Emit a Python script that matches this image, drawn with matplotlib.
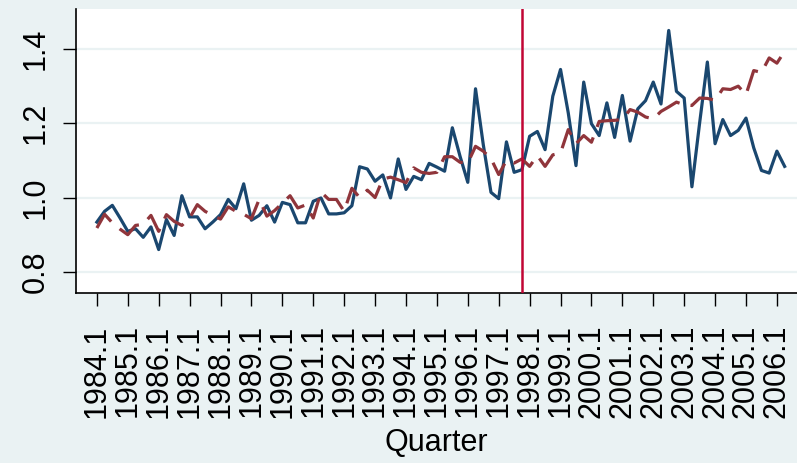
import matplotlib
matplotlib.use("Agg")
import matplotlib.pyplot as plt

# quarterly series, 1984.1 .. 2006.2
actual = [0.934, 0.963, 0.979, 0.945, 0.909, 0.916, 0.893, 0.921, 0.860, 0.941,
          0.898, 1.005, 0.948, 0.948, 0.916, 0.934, 0.954, 0.995, 0.970, 1.037,
          0.939, 0.952, 0.978, 0.934, 0.987, 0.981, 0.932, 0.932, 0.990, 0.999,
          0.956, 0.956, 0.959, 0.978, 1.083, 1.077, 1.044, 1.061, 0.999, 1.104,
          1.022, 1.057, 1.048, 1.092, 1.082, 1.071, 1.188, 1.111, 1.041, 1.293,
          1.143, 1.014, 0.997, 1.150, 1.068, 1.075, 1.165, 1.178, 1.129, 1.273,
          1.345, 1.228, 1.086, 1.311, 1.199, 1.167, 1.255, 1.162, 1.275, 1.152,
          1.239, 1.261, 1.311, 1.252, 1.450, 1.286, 1.268, 1.029, 1.201, 1.365,
          1.145, 1.210, 1.167, 1.181, 1.214, 1.134, 1.073, 1.066, 1.125, 1.084]

fitted = [0.918, 0.955, 0.932, 0.915, 0.900, 0.925, 0.928, 0.952, 0.909, 0.954,
          0.936, 0.925, 0.945, 0.981, 0.963, 0.952, 0.942, 0.975, 0.963, 0.955,
          0.943, 0.995, 0.950, 0.965, 0.985, 1.005, 0.972, 0.980, 0.945, 1.015,
          0.995, 0.995, 0.963, 1.025, 1.000, 1.020, 1.000, 1.050, 1.055, 1.048,
          1.040, 1.080, 1.068, 1.065, 1.068, 1.110, 1.110, 1.095, 1.093, 1.138,
          1.125, 1.105, 1.062, 1.100, 1.093, 1.104, 1.084, 1.113, 1.084, 1.115,
          1.120, 1.183, 1.145, 1.167, 1.149, 1.205, 1.207, 1.208, 1.210, 1.237,
          1.230, 1.217, 1.212, 1.232, 1.244, 1.257, 1.250, 1.248, 1.268, 1.267,
          1.262, 1.293, 1.291, 1.300, 1.277, 1.342, 1.337, 1.376, 1.362, 1.394]

quarters = [f"{1984 + i // 4}.{i % 4 + 1}" for i in range(len(actual))]
tick_labels = [f"{y}.1" for y in range(1984, 2007)]
break_quarter = "1997.4"
y_ticks = [0.8, 1.0, 1.2, 1.4]

bg = "#eaf2f3"
plt.rcParams["font.family"] = ["Liberation Sans", "DejaVu Sans"]

fig = plt.figure(figsize=(7.97, 4.63), dpi=100, facecolor=bg)
ax = fig.add_axes([76 / 797, 1 - 293 / 463, 1 - 76 / 797, (293 - 9.3) / 463])
ax.set_facecolor("white")

x = list(range(len(quarters)))
for v in y_ticks:
    ax.axhline(v, color=bg, lw=1.6, zorder=0)

ax.plot(x, actual, color="#1a476f", lw=2.3, zorder=3)
ax.plot(x, fitted, color="#90353b", lw=2.3, dashes=(8, 3.5), zorder=4)
ax.axvline(quarters.index(break_quarter), color="#c10534", lw=1.8, zorder=5)

ax.set_xlim(-2.7, 90.6)
ax.set_ylim(0.743, 1.507)
ax.set_xticks([quarters.index(q) for q in tick_labels])
ax.set_xticklabels(tick_labels, rotation=90, fontsize=22)
ax.set_yticks(y_ticks)
ax.set_yticklabels([f"{v:.1f}" for v in y_ticks], rotation=90, va="center", fontsize=22)
ax.tick_params(axis="both", length=9.5, width=1.0, direction="out")
ax.tick_params(axis="x", pad=13)
ax.tick_params(axis="y", pad=9)

for s in ["top", "right"]:
    ax.spines[s].set_visible(False)
for s in ["left", "bottom"]:
    ax.spines[s].set_linewidth(1.2)

ax.set_xlabel("Quarter", fontsize=22, labelpad=7)

fig.savefig("out.png", dpi=100, facecolor=bg)
